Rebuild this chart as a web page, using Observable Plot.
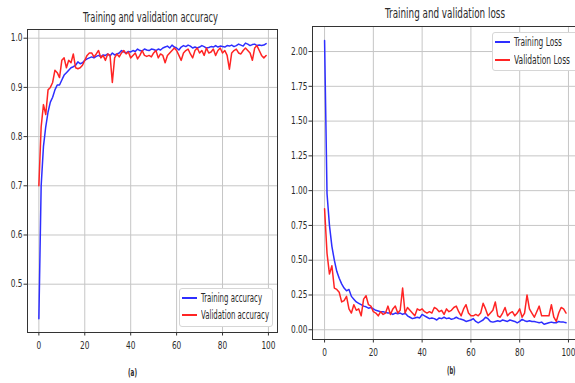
<!DOCTYPE html>
<html>
<head>
<meta charset="utf-8">
<script src="https://cdn.jsdelivr.net/npm/d3@7"></script>
<script src="https://cdn.jsdelivr.net/npm/@observablehq/plot@0.6"></script>
<style>
  body { margin:0; background:#fff; }
  #wrap { position:relative; width:575px; height:383px; overflow:hidden; background:#fff;
          font-family:"DejaVu Sans",sans-serif; }
  .abs { position:absolute; white-space:nowrap; color:#2a2a2a; line-height:1; transform-origin:0 0; }
  .legend { position:absolute; background:#fff; border:1px solid #d6d6d6; border-radius:3px; box-sizing:border-box; }
  .lline { position:absolute; height:2px; }
</style>
</head>
<body>
<div id="wrap"></div>
<script>
// ---- data (epoch = array index 0..99) ----
const trainAcc = [0.43,0.70,0.78,0.82,0.85,0.87,0.88,0.895,0.905,0.905,
  0.915,0.925,0.93,0.935,0.94,0.942,0.945,0.952,0.948,0.95,
  0.955,0.958,0.96,0.962,0.96,0.963,0.965,0.962,0.966,0.965,
  0.968,0.964,0.97,0.966,0.968,0.97,0.975,0.972,0.97,0.973,
  0.972,0.975,0.973,0.978,0.975,0.974,0.978,0.976,0.975,0.978,
  0.977,0.975,0.978,0.976,0.98,0.982,0.984,0.98,0.986,0.982,
  0.98,0.976,0.982,0.985,0.983,0.986,0.984,0.98,0.982,0.98,
  0.982,0.985,0.983,0.98,0.981,0.983,0.982,0.985,0.982,0.984,
  0.983,0.982,0.985,0.984,0.986,0.983,0.985,0.988,0.986,0.984,
  0.99,0.988,0.985,0.987,0.988,0.985,0.986,0.985,0.986,0.989];
const valAcc = [0.70,0.82,0.865,0.845,0.895,0.90,0.91,0.935,0.93,0.92,
  0.955,0.96,0.94,0.955,0.95,0.968,0.94,0.938,0.94,0.945,
  0.955,0.965,0.97,0.97,0.962,0.968,0.975,0.96,0.965,0.955,
  0.968,0.965,0.91,0.96,0.968,0.962,0.97,0.975,0.968,0.972,
  0.96,0.965,0.97,0.958,0.965,0.975,0.965,0.963,0.965,0.962,
  0.97,0.975,0.96,0.968,0.965,0.95,0.965,0.97,0.975,0.98,
  0.975,0.965,0.955,0.97,0.975,0.978,0.968,0.96,0.975,0.98,
  0.97,0.975,0.965,0.98,0.97,0.972,0.978,0.965,0.975,0.98,
  0.97,0.975,0.965,0.937,0.97,0.975,0.978,0.97,0.968,0.975,
  0.98,0.975,0.97,0.955,0.98,0.985,0.975,0.965,0.96,0.965];
const trainLoss = [2.08,0.98,0.75,0.60,0.50,0.42,0.37,0.33,0.30,0.28,
  0.29,0.24,0.22,0.20,0.19,0.18,0.17,0.165,0.155,0.16,
  0.15,0.14,0.135,0.13,0.13,0.125,0.12,0.12,0.11,0.12,
  0.115,0.12,0.11,0.12,0.10,0.09,0.08,0.085,0.09,0.085,
  0.11,0.10,0.09,0.08,0.085,0.08,0.07,0.085,0.08,0.09,
  0.08,0.085,0.075,0.08,0.09,0.08,0.075,0.07,0.06,0.065,
  0.07,0.08,0.06,0.05,0.06,0.07,0.09,0.08,0.06,0.055,
  0.06,0.065,0.06,0.07,0.065,0.06,0.07,0.065,0.06,0.05,
  0.06,0.075,0.065,0.06,0.065,0.06,0.06,0.055,0.05,0.055,
  0.04,0.045,0.05,0.055,0.05,0.05,0.06,0.055,0.055,0.05];
const valLoss = [0.87,0.55,0.40,0.46,0.30,0.29,0.27,0.20,0.21,0.24,
  0.15,0.12,0.18,0.14,0.15,0.10,0.22,0.245,0.18,0.17,
  0.13,0.12,0.10,0.13,0.11,0.12,0.17,0.11,0.15,0.17,
  0.12,0.14,0.30,0.12,0.16,0.14,0.12,0.10,0.15,0.14,
  0.15,0.13,0.12,0.13,0.12,0.16,0.15,0.13,0.14,0.11,
  0.15,0.13,0.14,0.16,0.17,0.13,0.10,0.15,0.18,0.12,
  0.10,0.10,0.11,0.10,0.12,0.19,0.15,0.10,0.12,0.14,
  0.20,0.10,0.09,0.12,0.16,0.10,0.12,0.13,0.10,0.12,
  0.15,0.09,0.12,0.25,0.15,0.12,0.09,0.13,0.17,0.10,
  0.10,0.10,0.10,0.18,0.09,0.06,0.12,0.16,0.15,0.12];
const xTicks = [0,20,40,60,80,100];
const accTicks = [0.5,0.6,0.7,0.8,0.9,1.0];
const lossTicks = [0,0.25,0.5,0.75,1.0,1.25,1.5,1.75,2.0];
const titles = ["Training and validation accuracy","Training and validation loss"];
const captions = ["(a)","(b)"];
const accLegend = ["Training accuracy","Validation accuracy"];
const lossLegend = ["Training Loss","Validation Loss"];
const colors = ["#2e2eff","#ff2424"];

const wrap = document.getElementById("wrap");

function squeezeTicks(svg, k) {
  svg.querySelectorAll('g[aria-label$="tick label"] text').forEach(el => {
    let t = el.getAttribute("transform") || "";
    const x = el.getAttribute("x"), y = el.getAttribute("y");
    if (x !== null || (y !== null && !/em/.test(y))) {
      t += ` translate(${x || 0},${(y && !/em/.test(y)) ? y : 0})`;
      el.removeAttribute("x");
      if (y && !/em/.test(y)) el.removeAttribute("y");
    }
    el.setAttribute("transform", t + ` scale(${k},1)`);
  });
}

function panel(opts) {
  const svg = Plot.plot({
    width: opts.width, height: 383,
    marginLeft: opts.ml, marginRight: opts.mr, marginTop: opts.mt, marginBottom: opts.mb,
    style: {fontFamily: '"DejaVu Sans",sans-serif', fontSize: "10px", color: "#2a2a2a", background: "transparent", overflow: "visible"},
    x: {domain: [-4.95, 103.95], label: null},
    y: {domain: opts.yDomain, label: null},
    marks: [
      Plot.gridX(xTicks, {stroke: "#c6c6c6", strokeOpacity: 1, strokeWidth: 1}),
      Plot.gridY(opts.yTicks, {stroke: "#c6c6c6", strokeOpacity: 1, strokeWidth: 1}),
      Plot.axisX(xTicks, {tickSize: 3.5, tickPadding: 6, tickFormat: d3.format("d"), stroke: "#333"}),
      Plot.axisY(opts.yTicks, {tickSize: 3.5, tickPadding: 1.5, tickFormat: d3.format(opts.fmt), stroke: "#333"}),
      Plot.line(opts.a, {x: (d, i) => i, y: d => d, stroke: colors[0], strokeWidth: 1.5}),
      Plot.line(opts.b, {x: (d, i) => i, y: d => d, stroke: colors[1], strokeWidth: 1.5}),
      Plot.frame({stroke: "#333", strokeWidth: 1})
    ]
  });
  squeezeTicks(svg, 0.74);
  svg.style.position = "absolute";
  svg.style.left = opts.left + "px";
  svg.style.top = "0px";
  wrap.appendChild(svg);
}

panel({left: 0, width: 285, ml: 27, mr: 8, mt: 29, mb: 51,
  yDomain: [0.4018, 1.0177], yTicks: accTicks, fmt: ".1f", a: trainAcc, b: valAcc});
panel({left: 285, width: 295, ml: 27, mr: 2.4, mt: 26, mb: 44,
  yDomain: [-0.07, 2.18], yTicks: lossTicks, fmt: ".2f", a: trainLoss, b: valLoss});

// text fitted to a target width (the reference is horizontally squeezed)
function addText(txt, left, top, targetW, size, bold, parent) {
  const d = document.createElement("div");
  d.className = "abs";
  d.textContent = txt;
  d.style.fontSize = size + "px";
  if (bold) d.style.fontWeight = "bold";
  d.style.left = left + "px";
  d.style.top = top + "px";
  (parent || wrap).appendChild(d);
  const w = d.getBoundingClientRect().width;
  d.style.transform = `scaleX(${targetW / w})`;
  return d;
}
addText(titles[0], 83, 11, 135, 13.7, false);
addText(titles[1], 385, 6.7, 120, 13.7, false);
addText(captions[0], 128, 367, 9, 11, true);
addText(captions[1], 447, 365, 8.5, 11, true);

function legend(x, y, w, h, labels, widths, rowTops, lineYs) {
  const box = document.createElement("div");
  box.className = "legend";
  Object.assign(box.style, {left: x + "px", top: y + "px", width: w + "px", height: h + "px"});
  wrap.appendChild(box);
  labels.forEach((lab, i) => {
    const ln = document.createElement("div");
    ln.className = "lline";
    Object.assign(ln.style, {left: (x + 3) + "px", top: (lineYs[i] - 1) + "px", width: "15px", background: colors[i]});
    wrap.appendChild(ln);
    addText(lab, x + 22, rowTops[i], widths[i], 11.4, false);
  });
}
legend(179, 288, 94, 39, accLegend, [61, 68], [292.5, 310.2], [298, 315]);
legend(492, 32, 86, 39, lossLegend, [48, 56], [36.8, 54.5], [42, 60]);
</script>
</body>
</html>
